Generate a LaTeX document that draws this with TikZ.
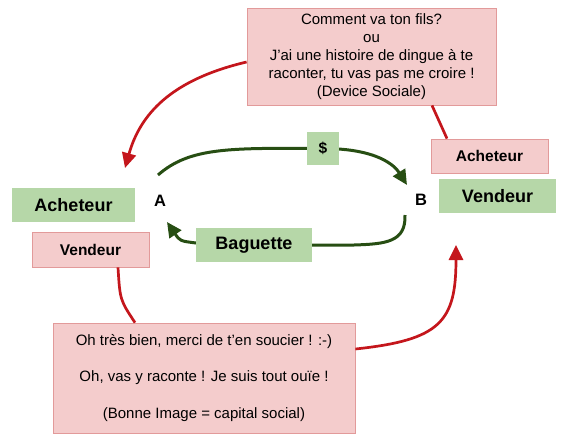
\documentclass[tikz,border=0pt]{standalone}
\usepackage{fontspec}
\setmainfont{Liberation Sans}
\usetikzlibrary{arrows.meta,calc}
\definecolor{pinkfill}{HTML}{F4CCCC}
\definecolor{pinkline}{HTML}{E29A9A}
\definecolor{greenfill}{HTML}{B6D7A8}
\definecolor{darkgreen}{HTML}{274E13}
\definecolor{redline}{HTML}{C4161C}
\pgfdeclarelayer{bg}
\pgfsetlayers{bg,main}
\tikzset{
  pinkbox/.style={draw=pinkline, line width=0.8pt, fill=pinkfill, inner sep=0pt, align=center},
  greenbox/.style={fill=greenfill, inner sep=0pt, align=center},
  biglabel/.style={font=\fontsize{18}{21}\selectfont\bfseries},
  smalllabel/.style={font=\fontsize{15.5}{18}\selectfont\bfseries},
  pointlabel/.style={font=\fontsize{16.5}{19}\selectfont\bfseries, inner sep=0pt},
  bodytext/.style={font=\fontsize{15}{17.9}\selectfont},
  garrow/.style={draw=darkgreen, line width=3pt, -{Triangle[length=15pt,width=14pt]}},
  rarrow/.style={draw=redline, line width=2.7pt, -{Triangle[length=15pt,width=14pt]}},
  rline/.style={draw=redline, line width=2.7pt},
}
\begin{document}
\begin{tikzpicture}[x=1pt,y=-1pt]
\useasboundingbox (0,0) rectangle (567,439);
% nodes
\node[pinkbox, bodytext, minimum width=249pt, minimum height=97pt] (top) at (371.5,56.5)
  {Comment va ton fils?\\ou\\J'ai une histoire de dingue à te\\raconter, tu vas pas me croire !\\(Device Sociale)};
\node[greenbox, biglabel, minimum width=123pt, minimum height=34pt] (acL) at (73.5,205) {Acheteur};
\node[pinkbox, smalllabel, minimum width=117pt, minimum height=35pt] (venL) at (90.5,249.5) {Vendeur};
\node[pointlabel] (A) at (160,201) {A};
\node[pointlabel] (B) at (421,200) {B};
\node[greenbox, biglabel, minimum width=116pt, minimum height=34pt] (bag) at (254,245) {Baguette};
\node[greenbox, smalllabel, minimum width=32pt, minimum height=33pt] (dol) at (323,148.5) {\$};
\node[pinkbox, smalllabel, minimum width=117pt, minimum height=34pt] (acR) at (489.5,156) {Acheteur};
\node[greenbox, biglabel, minimum width=117pt, minimum height=34pt] (venR) at (497.5,196) {Vendeur};
\node[pinkbox, bodytext, minimum width=302pt, minimum height=110pt] (bot) at (204,378)
  {Oh très bien, merci de t’en soucier ! :-)\\[18.3pt]Oh, vas y raconte ! Je suis tout ouïe !\\[18.3pt](Bonne Image = capital social)};
% connectors
\begin{pgfonlayer}{bg}
\draw[garrow] ($(A)+(-2,-26)$) .. controls ($(A)+(30,-54)$) and ($(A)+(70,-53)$) .. (dol.center)
  .. controls ($(dol)+(55,0)$) and ($(B)+(-26,-34)$) .. ($(B)+(-14,-15)$);
\draw[garrow] ($(B)+(-16,15)$) .. controls ($(B)+(-15,42)$) and ($(B)+(-35,44)$) .. ($(bag)+(100,0)$)
  -- (bag.center) -- ($(bag)+(-58,-2)$) .. controls ($(bag)+(-74,-4)$) .. ($(A)+(7,21)$);
\end{pgfonlayer}
\draw[rarrow] ($(top.west)+(0,5.5)$) .. controls (170,80) and (140,115) .. (125,168);
\draw[rline] ($(top.south)+(60.5,0)$) -- ($(acR.north)+(-42.5,0)$);
\draw[rline] ($(venL.south)+(27.5,0)$) .. controls (120,300) .. ($(bot.north)+(-69,0)$);
\draw[rarrow] ($(bot.east)+(0,-29)$) .. controls (440,340) and (456,322) .. (456,245);
\end{tikzpicture}
\end{document}
